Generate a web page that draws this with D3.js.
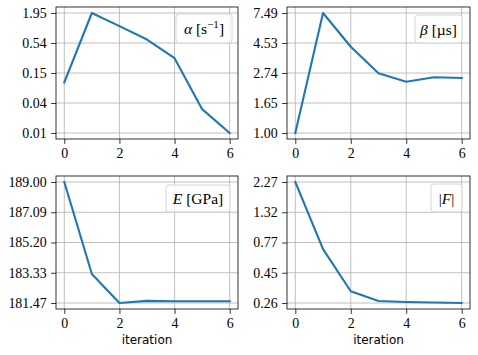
<!DOCTYPE html>
<html>
<head>
<meta charset="utf-8">
<script src="https://cdn.jsdelivr.net/npm/d3@7"></script>
<style>
  body { margin: 0; background: #fff; }
  svg text { fill: #000; }
</style>
</head>
<body>
<div id="chart"></div>
<script>
// iteration numbers shared by all panels
let iterations = [0, 1, 2, 3, 4, 5, 6];
let xTicks = [0, 2, 4, 6];

// values
let alphaVals = [0.100, 1.95, 1.11, 0.627, 0.282, 0.0319, 0.0115];
let betaVals = [1.00, 7.49, 4.25, 2.73, 2.36, 2.55, 2.52];
let eVals = [189.00, 183.25, 181.47, 181.60, 181.58, 181.58, 181.58];
let fVals = [2.27, 0.682, 0.321, 0.2695, 0.265, 0.262, 0.260];

// y tick labels (bottom to top)
let alphaTicks = ['0.01', '0.04', '0.15', '0.54', '1.95'];
let betaTicks = ['1.00', '1.65', '2.74', '4.53', '7.49'];
let eTicks = ['181.47', '183.33', '185.20', '187.09', '189.00'];
let fTicks = ['0.26', '0.45', '0.77', '1.32', '2.27'];

let width = 478,
    height = 355;

let svg = d3.select('#chart').append('svg')
    .attr('width', width)
    .attr('height', height);

let serif = "'Liberation Serif', 'DejaVu Serif', serif";

//----------------------------------------
// one panel = one log-scaled series
function panel(box, values, tickLabels, legend, showXLabel) {
    let g = svg.append('g');

    let x = d3.scaleLinear()
        .domain([0, 6])
        .range([box.x0 + 8.3, box.x1 - 8.3]);

    let ext = d3.extent(values);
    let y = d3.scaleLog()
        .domain(ext)
        .range([box.y1 - 6, box.y0 + 6]);

    // ticks evenly spaced in log space between min and max
    let lnMin = Math.log(ext[0]), lnMax = Math.log(ext[1]);
    let yTickVals = tickLabels.map(function(d, i) {
        return Math.exp(lnMin + i * (lnMax - lnMin) / (tickLabels.length - 1));
    });

    // grid
    g.append('g').selectAll('line.gx')
        .data(xTicks).enter().append('line')
        .attr('x1', d => x(d)).attr('x2', d => x(d))
        .attr('y1', box.y0).attr('y2', box.y1)
        .style('stroke', '#b0b0b0').style('stroke-width', 0.8);
    g.append('g').selectAll('line.gy')
        .data(yTickVals).enter().append('line')
        .attr('y1', d => y(d)).attr('y2', d => y(d))
        .attr('x1', box.x0).attr('x2', box.x1)
        .style('stroke', '#b0b0b0').style('stroke-width', 0.8);

    // the line
    let line = d3.line()
        .x((d, i) => x(iterations[i]))
        .y(d => y(d));
    g.append('path')
        .datum(values)
        .attr('d', line)
        .style('fill', 'none')
        .style('stroke', '#1f77b4')
        .style('stroke-width', 2.1)
        .style('stroke-linejoin', 'round')
        .style('stroke-linecap', 'square');

    // axes
    let xAxis = d3.axisBottom(x)
        .tickValues(xTicks)
        .tickSize(4.9)
        .tickPadding(4)
        .tickFormat(d3.format('d'));
    let yAxis = d3.axisLeft(y)
        .tickValues(yTickVals)
        .tickSize(4.9)
        .tickPadding(4.5)
        .tickFormat((d, i) => tickLabels[i]);

    let gx = g.append('g')
        .attr('transform', 'translate(0,' + box.y1 + ')')
        .call(xAxis);
    let gy = g.append('g')
        .attr('transform', 'translate(' + box.x0 + ',0)')
        .call(yAxis);
    [gx, gy].forEach(function(a) {
        a.select('.domain').remove();
        a.selectAll('.tick line').style('stroke', '#000').style('stroke-width', 0.8);
        a.selectAll('.tick text')
            .style('font-family', serif)
            .style('font-size', '13.9px')
            .style('fill', '#000');
    });

    // frame
    g.append('rect')
        .attr('x', box.x0).attr('y', box.y0)
        .attr('width', box.x1 - box.x0).attr('height', box.y1 - box.y0)
        .style('fill', 'none')
        .style('stroke', '#000')
        .style('stroke-width', 0.8);

    // legend (text only)
    let lg = g.append('g');
    lg.append('rect')
        .attr('x', legend.x0).attr('y', legend.y0)
        .attr('width', legend.x1 - legend.x0).attr('height', legend.y1 - legend.y0)
        .attr('rx', 3)
        .style('fill', 'rgba(255,255,255,0.8)')
        .style('stroke', '#d6d6d6')
        .style('stroke-width', 1);
    let t = lg.append('text')
        .attr('x', (legend.x0 + legend.x1) / 2)
        .attr('y', (legend.y0 + legend.y1) / 2 + legend.dy)
        .attr('text-anchor', 'middle')
        .style('font-family', serif)
        .style('font-size', '15.5px');
    legend.parts.forEach(function(p) {
        let s = t.append('tspan').text(p.text);
        if (p.italic) s.style('font-style', 'italic');
        if (p.sup) s.attr('baseline-shift', 'super').style('font-size', '11px');
    });

    if (showXLabel) {
        g.append('text')
            .attr('x', (box.x0 + box.x1) / 2)
            .attr('y', 344)
            .attr('text-anchor', 'middle')
            .style('font-family', "'DejaVu Sans', sans-serif")
            .style('font-size', '12px')
            .text('iteration');
    }
}

panel({x0: 56, x1: 238, y0: 7, y1: 139}, alphaVals, alphaTicks,
    {x0: 176, x1: 232, y0: 14, y1: 43, dy: 5.5,
     parts: [{text: 'α', italic: true}, {text: ' [s'}, {text: '−1', sup: true}, {text: ']'}]},
    false);
panel({x0: 287, x1: 470, y0: 7, y1: 139}, betaVals, betaTicks,
    {x0: 415, x1: 462, y0: 15, y1: 43, dy: 5.5,
     parts: [{text: 'β', italic: true}, {text: ' [µs]'}]},
    false);
panel({x0: 56, x1: 238, y0: 176, y1: 309}, eVals, eTicks,
    {x0: 166, x1: 230, y0: 185, y1: 212, dy: 5.5,
     parts: [{text: 'E', italic: true}, {text: ' [GPa]'}]},
    true);
panel({x0: 287, x1: 470, y0: 176, y1: 309}, fVals, fTicks,
    {x0: 431, x1: 462, y0: 184, y1: 212, dy: 5.5,
     parts: [{text: '|'}, {text: 'F', italic: true}, {text: '|'}]},
    true);
</script>
</body>
</html>
